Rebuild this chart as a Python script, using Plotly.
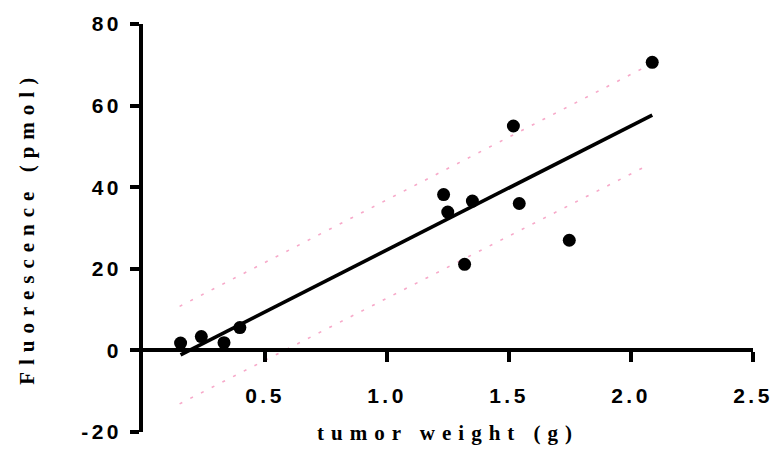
import numpy as np
import plotly.graph_objects as go

# ---- data ----
tumor_weight = [0.154, 0.239, 0.332, 0.397, 1.232, 1.249, 1.318, 1.350, 1.518, 1.542, 1.747, 2.087]
fluorescence = [1.8, 3.4, 1.9, 5.6, 38.2, 33.9, 21.1, 36.6, 55.0, 36.0, 27.0, 70.6]

band_x = [0.15, 2.05]
band_upper = [10.8, 69.2]
band_lower = [-13.1, 44.8]

x_tickvals = [0.5, 1.0, 1.5, 2.0, 2.5]
x_ticktext = ["0.5", "1.0", "1.5", "2.0", "2.5"]
y_tickvals = [-20, 0, 20, 40, 60, 80]
y_ticktext = ["-20", "0", "20", "40", "60", "80"]

x_title = "tumor weight (g)"
y_title = "Fluorescence (pmol)"

x_range = [0, 2.5]
y_range = [-20, 80]

# linear regression of the points
slope, intercept = np.polyfit(tumor_weight, fluorescence, 1)
fit_x = [min(tumor_weight), max(tumor_weight)]
fit_y = [intercept + slope * v for v in fit_x]

W, H = 780, 455
ML, MR, MT, MB = 143, 20, 20, 18
PW, PH = W - ML - MR, H - MT - MB

PINK = "#f7a9c9"

fig = go.Figure()
fig.add_trace(go.Scatter(x=band_x, y=band_upper, mode="lines",
                         line=dict(color=PINK, width=1.6, dash="3px,9px"),
                         hoverinfo="skip", showlegend=False))
fig.add_trace(go.Scatter(x=band_x, y=band_lower, mode="lines",
                         line=dict(color=PINK, width=1.6, dash="3px,9px"),
                         hoverinfo="skip", showlegend=False))
fig.add_trace(go.Scatter(x=fit_x, y=fit_y, mode="lines",
                         line=dict(color="black", width=3.6),
                         showlegend=False))
fig.add_trace(go.Scatter(x=tumor_weight, y=fluorescence, mode="markers",
                         marker=dict(color="black", size=13, line=dict(width=0)),
                         showlegend=False, cliponaxis=False))

tickfont = dict(family="Liberation Sans, Arial, sans-serif", size=21, color="black", weight="bold")
titlefont = dict(family="Liberation Serif, Times New Roman, serif", size=21, color="black", weight="bold")

x_axis_pos = (0 - y_range[0]) / (y_range[1] - y_range[0])

fig.update_layout(
    width=W, height=H,
    margin=dict(l=ML, r=MR, t=MT, b=MB, pad=0),
    paper_bgcolor="white", plot_bgcolor="white",
    xaxis=dict(range=x_range, tickvals=x_tickvals, ticktext=x_ticktext,
               showgrid=False, zeroline=False, showline=True, linecolor="black",
               linewidth=3.6, ticks="outside", ticklen=10, tickwidth=3.6, tickcolor="black",
               tickfont=tickfont, anchor="free", position=x_axis_pos,
               ticklabelstandoff=16, fixedrange=True),
    yaxis=dict(range=y_range, tickvals=y_tickvals, ticktext=y_ticktext,
               showgrid=False, zeroline=False, showline=True, linecolor="black",
               linewidth=3.6, ticks="outside", ticklen=9, tickwidth=3.6, tickcolor="black",
               tickfont=tickfont, ticklabelstandoff=4, fixedrange=True),
    annotations=[
        dict(text=x_title, xref="paper", yref="paper", x=0.5, y=(MT + PH - 438) / PH * 1.0 if False else -(438 - (MT + PH)) / PH,
             xanchor="center", yanchor="middle", showarrow=False, font=titlefont),
        dict(text=y_title, xref="paper", yref="paper", x=(26 - ML) / PW, y=0.5,
             xanchor="center", yanchor="middle", showarrow=False, textangle=-90, font=titlefont),
    ],
)

post = """
var gd = document.getElementById('{plot_id}');
gd.querySelectorAll('.xtick text, .ytick text').forEach(function(t){ t.style.letterSpacing = '3.5px'; });
gd.querySelectorAll('.annotation-text').forEach(function(t){ t.style.letterSpacing = '7px'; });
"""

fig.write_html("out.html", post_script=post, config={"displayModeBar": False})
